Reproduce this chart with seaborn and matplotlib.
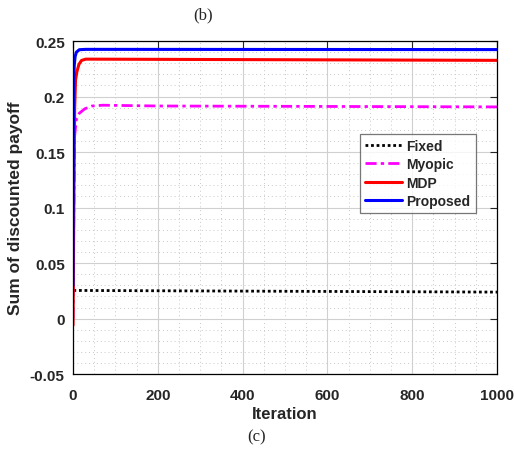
import numpy as np
import pandas as pd
import matplotlib
matplotlib.use("Agg")
import matplotlib.pyplot as plt
from matplotlib.ticker import MultipleLocator, FuncFormatter
import seaborn as sns

# Sum of discounted payoff versus iteration for four strategies
fixed_iter = [1, 1000]
fixed_val = [0.0254, 0.0239]

myopic_iter = [0, 2, 4, 8, 15, 28, 45, 70, 200, 1000]
myopic_val = [0.0, 0.10, 0.165, 0.180, 0.185, 0.189, 0.1915, 0.1922, 0.1915, 0.1907]

mdp_iter = [0, 2, 4, 6, 9, 14, 20, 30, 1000]
mdp_val = [-0.006, 0.10, 0.19, 0.215, 0.222, 0.229, 0.2325, 0.2337, 0.2326]

proposed_iter = [0, 1, 2, 3, 5, 8, 15, 30, 1000]
proposed_val = [0.030, 0.17, 0.215, 0.228, 0.236, 0.240, 0.2422, 0.2425, 0.2423]

x_ticks = [0, 200, 400, 600, 800, 1000]
y_ticks = [-0.05, 0, 0.05, 0.1, 0.15, 0.2, 0.25]

sns.set_style("white")
plt.rcParams["font.family"] = ["Liberation Sans", "DejaVu Sans"]
plt.rcParams["axes.unicode_minus"] = False

fig = plt.figure(figsize=(5.14, 4.52), dpi=100)
ax = fig.add_axes([0.142, 0.170, 0.825, 0.737])

series = [
    ("Fixed", fixed_iter, fixed_val, "black", 2.0, (0, (1, 1))),
    ("Myopic", myopic_iter, myopic_val, "#ff00ff", 2.0, (0, (4, 1.5, 1.2, 1.5))),
    ("MDP", mdp_iter, mdp_val, "#ff0000", 2.2, "-"),
    ("Proposed", proposed_iter, proposed_val, "#0000ff", 2.2, "-"),
]
for name, xs, ys, color, lw, ls in series:
    df = pd.DataFrame({"Iteration": xs, "Payoff": ys})
    sns.lineplot(data=df, x="Iteration", y="Payoff", ax=ax, color=color,
                 linewidth=lw, linestyle=ls, label=name)

ax.set_xlim(0, 1000)
ax.set_ylim(-0.05, 0.25)
ax.set_xticks(x_ticks)
ax.set_yticks(y_ticks)
ax.xaxis.set_minor_locator(MultipleLocator(50))
ax.yaxis.set_minor_locator(MultipleLocator(0.01))
ax.yaxis.set_major_formatter(FuncFormatter(lambda v, p: "%g" % round(v, 4)))

ax.grid(which="major", color="#d0d0d0", linewidth=0.8, linestyle="-")
ax.grid(which="minor", color="#c8c8c8", linewidth=0.7, linestyle=(0, (1, 3)))
ax.set_axisbelow(True)

ax.tick_params(which="major", direction="in", length=5, width=0.8,
               top=True, right=True, labelsize=11, labelcolor="#262626")
ax.tick_params(axis="y", which="major", pad=6)
ax.tick_params(axis="x", which="major", pad=10)
ax.tick_params(which="minor", length=0)
for lab in ax.get_xticklabels() + ax.get_yticklabels():
    lab.set_fontweight("bold")
for sp in ax.spines.values():
    sp.set_color("black")
    sp.set_linewidth(0.9)

ax.set_xlabel("Iteration", fontsize=12, fontweight="bold", labelpad=3,
              color="#262626")
ax.set_ylabel("Sum of discounted payoff", fontsize=12.5, fontweight="bold",
              labelpad=5, color="#262626")

leg = ax.legend(loc="upper left", bbox_to_anchor=(0.677, 0.72),
                prop={"weight": "bold", "size": 10}, frameon=True, fancybox=False,
                edgecolor="#555555", handlelength=2.7, handletextpad=0.3,
                labelspacing=0.3, borderpad=0.35, borderaxespad=0)
leg.get_frame().set_linewidth(0.9)

fig.text(0.395, 0.965, "(b)", ha="center", va="center", fontsize=12,
         family=["Liberation Serif", "DejaVu Serif"])
fig.text(0.50, 0.033, "(c)", ha="center", va="center", fontsize=12,
         family=["Liberation Serif", "DejaVu Serif"])

fig.savefig("out.png", dpi=100, facecolor="white")
